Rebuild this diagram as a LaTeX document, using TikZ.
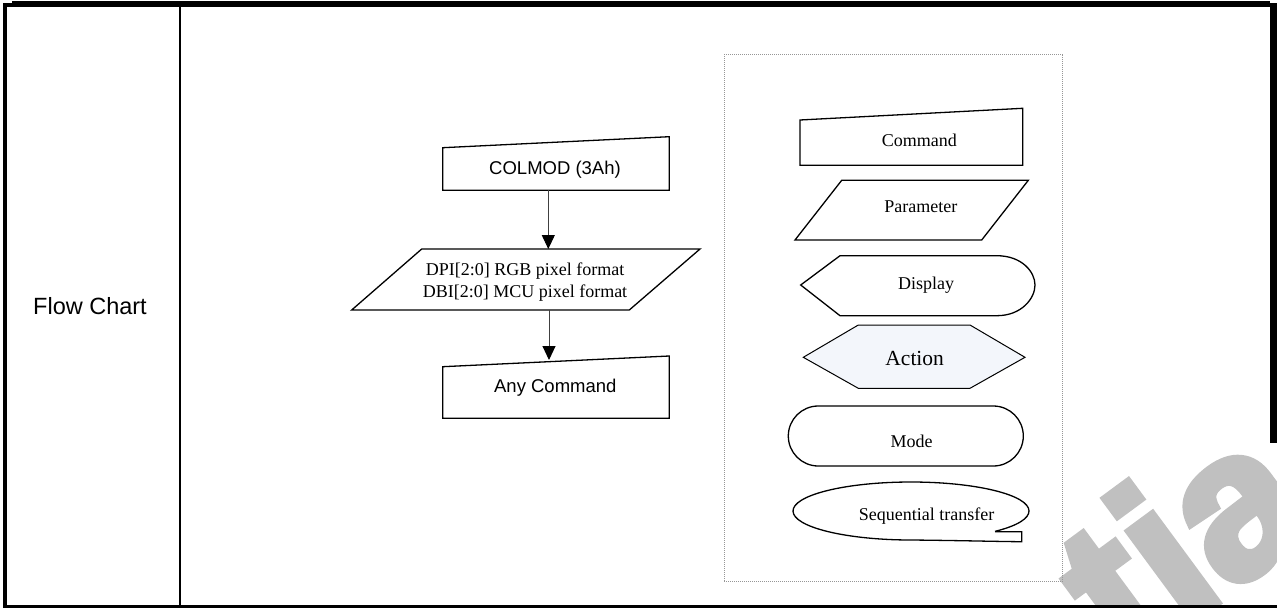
\documentclass[tikz,border=0pt]{standalone}
\usepackage{fontspec}
\setmainfont{Liberation Serif}
\newfontfamily\arialf{Liberation Sans}
\newfontfamily\wmfont{Liberation Sans}[UprightFont=*-Bold, FakeBold=4]
\usetikzlibrary{arrows.meta}
\definecolor{wmgray}{RGB}{192,192,192}
\definecolor{actfill}{RGB}{243,246,251}
\definecolor{dotgray}{RGB}{150,150,150}
\begin{document}
\begin{tikzpicture}[x=1pt,y=-1pt,
  shp/.style={draw=black, line width=1.3pt, line join=miter},
  conn/.style={draw=black!75, line width=1pt, -{Triangle[width=13pt,length=14pt,color=black]}},
  lbl/.style={anchor=base, inner sep=0pt, font=\fontsize{18}{21.6}\selectfont},
  albl/.style={anchor=base, inner sep=0pt, font=\arialf\fontsize{18.5}{22}\selectfont},
  framefill/.style={fill=black, draw=none},
]
\useasboundingbox (0,0) rectangle (1277,608);
% watermark (behind everything)
\begin{scope}
  \clip (0,0) rectangle (1277,607);
  \node[anchor=base west, inner sep=0pt, rotate=36.4, text=wmgray,
        font=\wmfont\fontsize{207}{207}\selectfont] (wm) at (1127,669) {tia};
\end{scope}
% outer frame
\fill[framefill] (11.7,1) rectangle (1270,6.7);
\fill[framefill] (3.3,2.7) rectangle (11.7,6.7);
\fill[framefill] (3.3,2.7) rectangle (7.3,608);
\fill[framefill] (1270,3.3) rectangle (1277,443);
\fill[framefill] (3.3,605.3) rectangle (1277,607.6);
\fill[framefill] (178.7,6.7) rectangle (181.3,605.5);
% row label
\node[anchor=base, inner sep=0pt, font=\arialf\fontsize{23.5}{28}\selectfont] (fc) at (90,314.4) {Flow Chart};
% left flow chart
\draw[shp] (442.7,147.7) -- (669.3,136.7) -- (669.3,190.3) -- (442.7,190.3) -- cycle;
\node[albl] (colmod) at (555,174) {COLMOD (3Ah)};
\draw[shp] (421.7,249) -- (700,249) -- (629.3,310) -- (351.7,310) -- cycle;
\node[lbl] (dpi) at (525,275.5) {DPI[2:0] RGB pixel format};
\node[lbl] (dbi) at (525,297) {DBI[2:0] MCU pixel format};
\draw[shp] (442.7,366.7) -- (669.3,356) -- (669.3,418.3) -- (442.7,418.3) -- cycle;
\node[albl] (anycmd) at (555.3,392.5) {Any Command};
\coordinate (colmodB) at (548.3,190.3);
\coordinate (paramT) at (548.3,249);
\coordinate (paramB) at (549,310);
\coordinate (anyT) at (549,360);
\draw[conn] (colmodB) -- (paramT);
\draw[conn] (paramB) -- (anyT);
% legend frame
\draw[dotgray, line width=0.8pt, dash pattern=on 1pt off 1pt] (724,54) rectangle (1062.7,581.7);
% Command
\draw[shp] (800,120) -- (1022.7,108.3) -- (1022.7,165.3) -- (800,165.3) -- cycle;
\node[lbl] (lcmd) at (919.3,146.7) {Command};
% Parameter
\draw[shp] (841.7,180.3) -- (1028.3,180.3) -- (981.7,240) -- (795,240) -- cycle;
\node[lbl] (lpar) at (920.8,212.7) {Parameter};
% Display
\draw[shp] (800.7,285) -- (840,255.7) -- (996.7,255.7)
  .. controls (1022,255.7) and (1035,272) .. (1035,285)
  .. controls (1035,298) and (1022,315.7) .. (996.7,315.7) -- (840,315.7) -- cycle;
\node[lbl] (ldisp) at (926,289.3) {Display};
% Action
\draw[draw=black, line width=1pt, fill=actfill] (803.3,357.3) -- (858.3,325) -- (970,325) -- (1025,357.3) -- (970,388.3) -- (858.3,388.3) -- cycle;
\node[anchor=base, inner sep=0pt, font=\fontsize{21.5}{25}\selectfont] (lact) at (914.7,365) {Action};
% Mode
\draw[shp, rounded corners=30pt] (788.3,406) rectangle (1023.3,466);
\node[lbl] (lmode) at (911.7,447.3) {Mode};
% Sequential transfer
\begin{scope}[shift={(911,511)}, x=1pt, y=1pt]
  \draw[shp] (-44.6:118pt and 29pt) arc[start angle=-44.6, end angle=270, x radius=118pt, y radius=29pt]
    .. controls (50,-29.5) and (90,-30.6) .. (110.7,-30.7) -- (110.7,-20.7) -- (84,-20.7);
\end{scope}
\node[lbl] (lseq) at (926.7,520.7) {Sequential transfer};
\end{tikzpicture}
\end{document}
